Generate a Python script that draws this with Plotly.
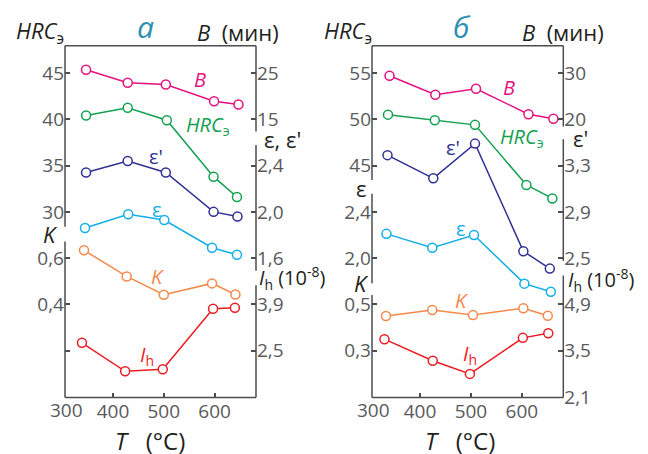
import plotly.graph_objects as go

W, H = 648, 454

# ---------------- data ----------------
# panel а
a_T_B = [347, 429, 504, 599, 647]
a_B = [25.7, 22.9, 22.5, 18.9, 18.2]
a_T_HRC = [347, 429, 506, 598, 644]
a_HRC = [40.4, 41.25, 39.9, 33.8, 31.6]
a_T_eps1 = [347, 429, 504, 598, 645]
a_eps1 = [2.34, 2.44, 2.34, 2.00, 1.96]
a_T_eps = [345, 430, 501, 595, 644]
a_eps = [1.86, 1.98, 1.93, 1.69, 1.63]
a_T_K = [343, 427, 500, 595, 641]
a_K = [0.634, 0.521, 0.442, 0.491, 0.443]
a_T_Ih = [339, 424, 498, 597, 640]
a_Ih = [2.74, 1.88, 1.94, 3.77, 3.80]

# panel б
b_T_B = [340, 430, 510, 613, 662]
b_B = [29.4, 25.3, 26.6, 21.1, 20.1]
b_T_HRC = [337, 429, 508, 609, 660]
b_HRC = [50.5, 49.9, 49.4, 42.9, 41.45]
b_T_eps1 = [336, 426, 508, 603, 655]
b_eps1 = [3.39, 3.19, 3.49, 2.56, 2.41]
b_T_eps = [334, 424, 506, 605, 657]
b_eps = [2.21, 2.09, 2.20, 1.78, 1.71]
b_T_K = [333, 424, 504, 603, 651]
b_K = [0.45, 0.476, 0.454, 0.484, 0.451]
b_T_Ih = [330, 425, 498, 602, 652]
b_Ih = [3.85, 3.20, 2.80, 3.89, 4.03]

# tick labels
x_ticks = [400, 500, 600]
a_HRC_ticks = [45, 40, 35, 30]
a_B_ticks = [25, 15]
a_eps_ticks = [2.4, 2.0, 1.6]
a_K_ticks = [0.6, 0.4, 0.2]
a_K_text = ["0,6", "0,4", ""]
a_Ih_ticks = [3.9, 2.5]
b_HRC_ticks = [55, 50, 45]
b_B_ticks = [30, 20]
b_eps_ticks = [2.4, 2.0]
b_eps1_ticks = [3.3, 2.9, 2.5]
b_K_ticks = [0.5, 0.3]
b_Ih_ticks = [4.9, 3.5, 2.1]

# ---------------- styling ----------------
C_B = "#e4117f"
C_HRC = "#12a14f"
C_EPS1 = "#2e3192"
C_EPS = "#12aee8"
C_K = "#f5894a"
C_IH = "#ec1c24"
C_TITLE = "#2b8fb3"
C_AX = "#4d4d4d"
C_TICK = "#58595b"
C_TXT = "#231f20"
FONT = "Open Sans"
TICK_SIZE = 19

TOP_PX, BOT_PX, L0_PX, UNIT = 47.0, 408.3, 75.0, 47.62
XA = (65.0, 256.0)
XB = (372.0, 563.3)
XR = [305.6, 681.5]


def px(x):
    return x / W


def py(y):
    return 1 - y / H


def yrange(v0, step):
    lo = v0 - step * (BOT_PX + 0.5 - L0_PX) / UNIT
    hi = v0 - step * (TOP_PX - L0_PX) / UNIT
    return [lo, hi]


def fmt(v):
    s = ("%g" % v).replace(".", ",")
    if "," not in s and v < 10 and isinstance(v, float):
        s = s + ",0"
    return s


fig = go.Figure()


def add(x, y, color, xa, ya):
    fig.add_trace(go.Scatter(
        x=x, y=y, xaxis=xa, yaxis=ya, mode="lines+markers",
        line=dict(color=color, width=1.5),
        marker=dict(symbol="circle", size=9, color="white",
                    line=dict(color=color, width=1.5)),
        showlegend=False, cliponaxis=False, hoverinfo="skip"))


add(a_T_B, a_B, C_B, "x", "y2")
add(a_T_HRC, a_HRC, C_HRC, "x", "y")
add(a_T_eps1, a_eps1, C_EPS1, "x", "y3")
add(a_T_eps, a_eps, C_EPS, "x", "y3")
add(a_T_K, a_K, C_K, "x", "y4")
add(a_T_Ih, a_Ih, C_IH, "x", "y5")

add(b_T_B, b_B, C_B, "x2", "y7")
add(b_T_HRC, b_HRC, C_HRC, "x2", "y6")
add(b_T_eps1, b_eps1, C_EPS1, "x2", "y9")
add(b_T_eps, b_eps, C_EPS, "x2", "y8")
add(b_T_K, b_K, C_K, "x2", "y10")
add(b_T_Ih, b_Ih, C_IH, "x2", "y11")

ydom = [py(BOT_PX), py(TOP_PX)]
tickfont = dict(family=FONT, size=TICK_SIZE, color=C_TICK)


def yax(rng, ticks, text, side, anchor, overlay=None):
    d = dict(domain=ydom, range=rng, side=side, anchor=anchor,
             tickmode="array", tickvals=ticks,
             ticktext=text if text is not None else [fmt(t) for t in ticks],
             ticks="inside", ticklen=5, tickwidth=1.5, tickcolor=C_AX,
             tickfont=tickfont, showgrid=False, zeroline=False,
             showline=False, fixedrange=True)
    if overlay:
        d["overlaying"] = overlay
    return d


def xax(dom):
    return dict(domain=[px(dom[0]), px(dom[1])], range=XR, anchor=None,
                tickmode="array", tickvals=x_ticks,
                ticktext=[str(t) for t in x_ticks],
                ticks="inside", ticklen=5, tickwidth=1.5, tickcolor=C_AX,
                tickfont=tickfont, showgrid=False, zeroline=False,
                showline=False)


xa = xax(XA); xa["anchor"] = "y"
xb = xax(XB); xb["anchor"] = "y6"

layout = dict(
    width=W, height=H, margin=dict(l=0, r=0, t=0, b=0),
    paper_bgcolor="white", plot_bgcolor="white",
    font=dict(family=FONT, color=C_TXT),
    xaxis=xa, xaxis2=xb,
    yaxis=yax(yrange(45, 5), a_HRC_ticks, [str(t) for t in a_HRC_ticks], "left", "x"),
    yaxis2=yax(yrange(25, 10), a_B_ticks, [str(t) for t in a_B_ticks], "right", "x", "y"),
    yaxis3=yax(yrange(3.2, 0.4), a_eps_ticks, None, "right", "x", "y"),
    yaxis4=yax(yrange(1.4, 0.2), a_K_ticks, a_K_text, "left", "x", "y"),
    yaxis5=yax(yrange(10.9, 1.4), a_Ih_ticks, None, "right", "x", "y"),
    yaxis6=yax(yrange(55, 5), b_HRC_ticks, [str(t) for t in b_HRC_ticks], "left", "x2"),
    yaxis7=yax(yrange(30, 10), b_B_ticks, [str(t) for t in b_B_ticks], "right", "x2", "y6"),
    yaxis8=yax(yrange(3.6, 0.4), b_eps_ticks, None, "left", "x2", "y6"),
    yaxis9=yax(yrange(4.1, 0.4), b_eps1_ticks, None, "right", "x2", "y6"),
    yaxis10=yax(yrange(1.5, 0.2), b_K_ticks, None, "left", "x2", "y6"),
    yaxis11=yax(yrange(11.9, 1.4), b_Ih_ticks, None, "right", "x2", "y6"),
)

# box outlines with gaps for the axis labels
segs = [
    ((XA[0], TOP_PX), (XA[1], TOP_PX)), ((XA[0], BOT_PX), (XA[1], BOT_PX)),
    ((XA[0], TOP_PX), (XA[0], 233)), ((XA[0], 248), (XA[0], BOT_PX)),
    ((XA[1], TOP_PX), (XA[1], 135)), ((XA[1], 149), (XA[1], 278)), ((XA[1], 293), (XA[1], BOT_PX)),
    ((XB[0], TOP_PX), (XB[1], TOP_PX)), ((XB[0], BOT_PX), (XB[1], BOT_PX)),
    ((XB[0], TOP_PX), (XB[0], 185)), ((XB[0], 199), (XB[0], 291)), ((XB[0], 303), (XB[0], BOT_PX)),
    ((XB[1], TOP_PX), (XB[1], 130)), ((XB[1], 143), (XB[1], 268)), ((XB[1], 283), (XB[1], BOT_PX)),
]
shapes = []
for (x0, y0), (x1, y1) in segs:
    shapes.append(dict(type="line", xref="paper", yref="paper",
                       x0=px(x0), y0=py(y0), x1=px(x1), y1=py(y1),
                       line=dict(color=C_AX, width=1.5), layer="above"))
layout["shapes"] = shapes

ann = []


def txt(t, x, y, size=19, color=C_TXT, xanchor="center", yanchor="middle"):
    ann.append(dict(text=t, x=px(x), y=py(y), xref="paper", yref="paper",
                    showarrow=False, xanchor=xanchor, yanchor=yanchor,
                    font=dict(family=FONT, size=size, color=color)))


HRC = "<i>HRC</i><sub>э</sub>"
IH = "<i>I</i><sub>h</sub>"
# top titles
txt(HRC, 14, 33, size=22, xanchor="left")
txt("<i>а</i>", 145, 27, size=30, color=C_TITLE)
txt("<i>B</i>  (мин)", 195, 33, size=22, xanchor="left")
txt(HRC, 322, 33, size=22, xanchor="left")
txt("<i>б</i>", 462, 27, size=30, color=C_TITLE)
txt("<i>B</i>  (мин)", 520, 33, size=22, xanchor="left")
# side axis labels
txt("<i>K</i>", 50, 240, size=22)
txt("ε, ε'", 262, 143, size=22, xanchor="left")
txt(IH + " (10<sup>-8</sup>)", 257, 286, size=20, xanchor="left")
txt("ε", 361, 193, size=22)
txt("<i>K</i>", 361, 291, size=22)
txt("ε'", 571, 142, size=22, xanchor="left")
txt(IH + " (10<sup>-8</sup>)", 566, 288, size=20, xanchor="left")
# series labels
txt("<i>B</i>", 200, 82, size=20, color=C_B)
txt(HRC, 184, 129, size=20, color=C_HRC, xanchor="left")
txt("ε'", 156, 161, size=20, color=C_EPS1)
txt("ε", 157, 215, size=20, color=C_EPS)
txt("<i>K</i>", 157, 284, size=20, color=C_K)
txt(IH, 147, 365, size=20, color=C_IH)
txt("<i>B</i>", 509, 90, size=20, color=C_B)
txt(HRC, 498, 141, size=20, color=C_HRC, xanchor="left")
txt("ε'", 453, 152, size=20, color=C_EPS1)
txt("ε", 461, 235, size=20, color=C_EPS)
txt("<i>K</i>", 461, 309, size=20, color=C_K)
txt(IH, 470, 364, size=20, color=C_IH)
# x-axis titles and the corner "300" labels
txt("<i>T</i>   (°C)", 113, 433, size=24, xanchor="left", yanchor="top")
txt("<i>T</i>   (°C)", 423, 433, size=24, xanchor="left", yanchor="top")
txt("300", 66, 421, size=TICK_SIZE, color=C_TICK)
txt("300", 373, 421, size=TICK_SIZE, color=C_TICK)
layout["annotations"] = ann

fig.update_layout(**layout)
fig.write_html("out.html", config={"displayModeBar": False},
               post_script="document.body.style.margin='0';document.body.style.overflow='hidden';")
